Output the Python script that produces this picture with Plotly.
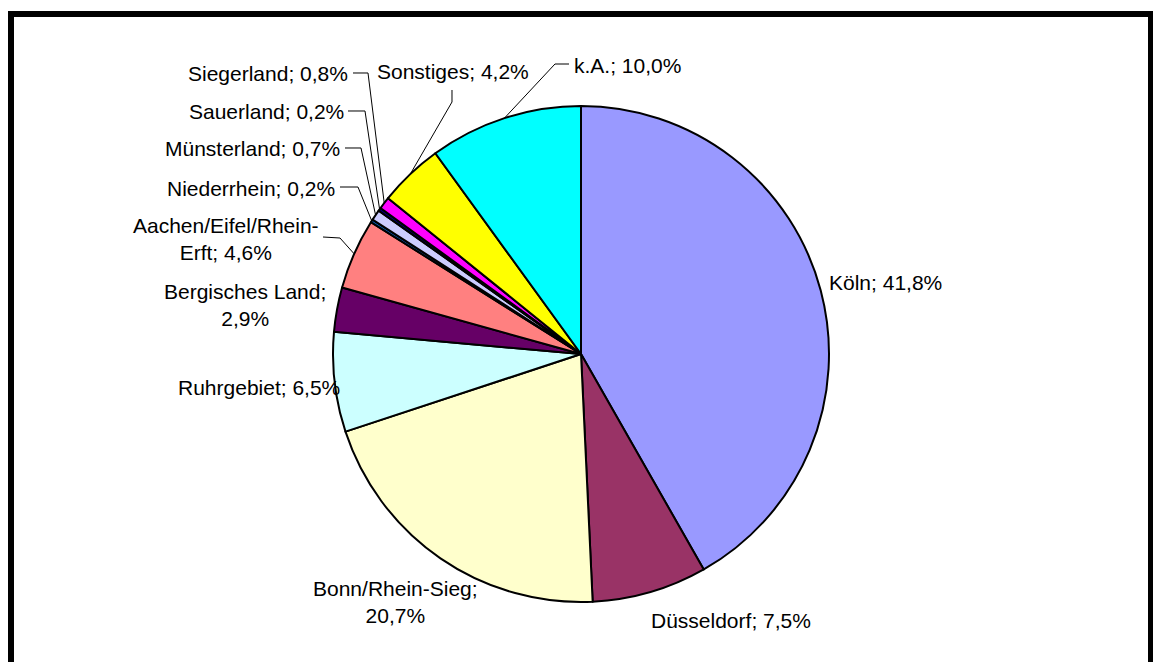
import math
import plotly.graph_objects as go

# data
regions = ["Köln", "Düsseldorf", "Bonn/Rhein-Sieg", "Ruhrgebiet", "Bergisches Land",
           "Aachen/Eifel/Rhein-Erft", "Niederrhein", "Münsterland", "Sauerland",
           "Siegerland", "Sonstiges", "k.A."]
shares = [41.8, 7.5, 20.7, 6.5, 2.9, 4.6, 0.2, 0.7, 0.2, 0.8, 4.2, 10.0]
colors = ["#9999FF", "#993366", "#FFFFCC", "#CCFFFF", "#660066", "#FF8080",
          "#0066CC", "#CCCCFF", "#000080", "#FF00FF", "#FFFF00", "#00FFFF"]

# where the label text wraps (Excel style)
wraps = {"Bonn/Rhein-Sieg": "{n};<br>{v}%", "Bergisches Land": "{n};<br>{v}%",
         "Aachen/Eifel/Rhein-Erft": "Aachen/Eifel/Rhein-<br>Erft; {v}%"}

W, H = 1153, 662
CX, CY, R = 581, 354, 248  # pie centre / radius in pixels


def px(x):
    return x / W


def py(y):
    return 1 - y / H


# label placement in pixels: (x, y, xanchor, leader elbow points)
placement = {
    "Köln": (885, 283, "center", None),
    "Düsseldorf": (731, 620, "center", None),
    "Bonn/Rhein-Sieg": (395, 602, "center", None),
    "Ruhrgebiet": (259, 387, "center", None),
    "Bergisches Land": (245, 305, "center", None),
    "Aachen/Eifel/Rhein-Erft": (226, 239, "center", [(323, 237), (340, 238)]),
    "Niederrhein": (337, 188, "right", [(340, 187), (358, 187)]),
    "Münsterland": (342, 149, "right", [(345, 148), (361, 148)]),
    "Sauerland": (346, 111, "right", [(348, 111), (365, 111)]),
    "Siegerland": (350, 73, "right", [(353, 73), (368, 73)]),
    "Sonstiges": (375, 72, "left", [(452, 90), (452, 102)]),
    "k.A.": (572, 66, "left", [(569, 64), (555, 64)]),
}

fig = go.Figure()
fig.add_trace(go.Pie(
    labels=regions, values=shares, sort=False, direction="clockwise", rotation=0,
    marker=dict(colors=colors, line=dict(color="black", width=2)),
    textinfo="none", showlegend=False,
    domain=dict(x=[px(CX - R), px(CX + R)], y=[py(CY + R), py(CY - R)]),
))

total = sum(shares)
cum = 0
annotations = []
shapes = []
for name, v in zip(regions, shares):
    mid = (cum + v / 2) / total * 2 * math.pi
    cum += v
    vs = f"{v:.1f}".replace(".", ",")
    text = wraps.get(name, "{n}; {v}%").format(n=name, v=vs)
    x, y, anchor, elbow = placement[name]
    annotations.append(dict(
        x=px(x), y=py(y), xref="paper", yref="paper", text=text, showarrow=False,
        xanchor=anchor, yanchor="middle", align="center",
        font=dict(family="Liberation Sans, Arial", size=21, color="black"),
    ))
    if elbow:
        ex = CX + R * math.sin(mid)
        ey = CY - R * math.cos(mid)
        pts = elbow + [(ex, ey)]
        path = "M " + " L ".join(f"{px(a):.5f},{py(b):.5f}" for a, b in pts)
        shapes.append(dict(type="path", path=path, xref="paper", yref="paper",
                           line=dict(color="black", width=1)))

# thick outer frame
shapes.append(dict(type="rect", xref="paper", yref="paper",
                   x0=px(11), y0=py(14), x1=px(1151), y1=-0.05,
                   line=dict(color="black", width=6)))

fig.update_layout(
    width=W, height=H, margin=dict(l=0, r=0, t=0, b=0),
    paper_bgcolor="white", plot_bgcolor="white",
    annotations=annotations, shapes=shapes,
)

fig.write_html("out.html", config={"displayModeBar": False},
               post_script="document.body.style.margin='0';")
